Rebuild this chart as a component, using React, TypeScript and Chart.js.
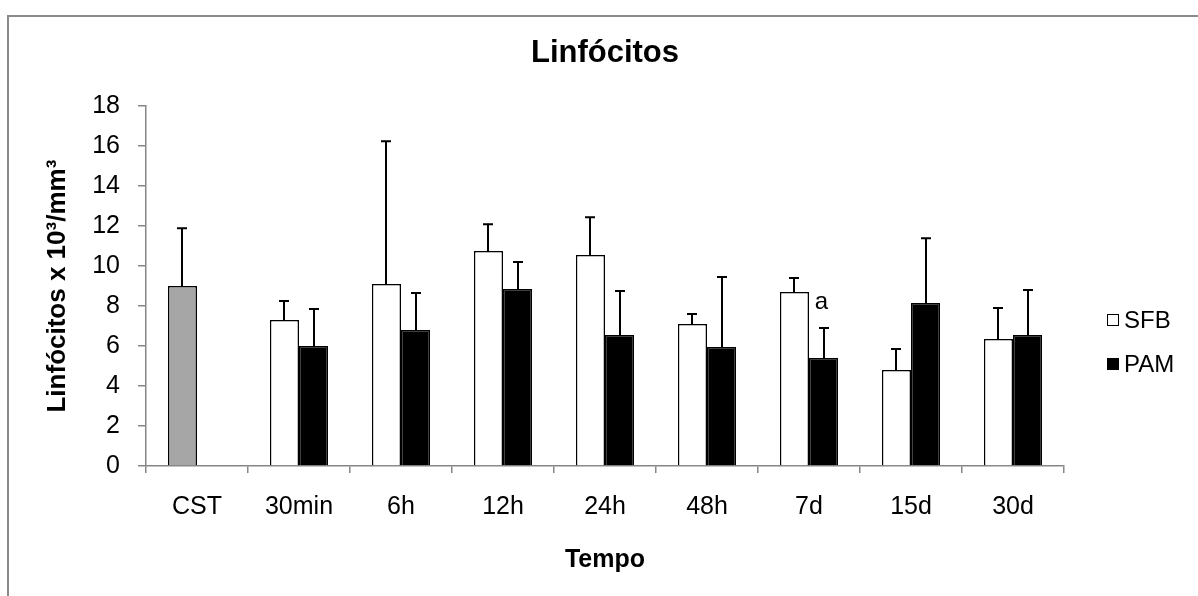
import React, { useEffect, useRef } from 'react';
import { Chart, registerables } from 'chart.js';

Chart.register(...registerables);

const categories = ['CST', '30min', '6h', '12h', '24h', '48h', '7d', '15d', '30d'];
const sfbMeans = [9.0, 7.3, 9.1, 10.75, 10.55, 7.1, 8.7, 4.8, 6.35];
const sfbErrors = [2.9, 0.95, 7.15, 1.35, 1.9, 0.5, 0.7, 1.05, 1.55];
const pamMeans: (number | null)[] = [null, 6.0, 6.8, 8.85, 6.55, 5.95, 5.4, 8.15, 6.55];
const pamErrors: (number | null)[] = [null, 1.85, 1.85, 1.35, 2.2, 3.5, 1.5, 3.25, 2.25];
const seriesNames = ['SFB', 'PAM'];
const annotations = [{ category: '7d', series: 1, text: 'a', value: 8.2 }];

const FONT = "'Liberation Sans', Arial, Helvetica, sans-serif";

export default function App() {
  const ref = useRef<HTMLCanvasElement>(null);

  useEffect(() => {
    const canvas = ref.current;
    if (!canvas) return;

    const errorsBySeries = [sfbErrors, pamErrors];
    const meansBySeries = [sfbMeans, pamMeans];

    const framePlugin = {
      id: 'frame',
      beforeDraw(chart: any) {
        const ctx = chart.ctx;
        ctx.save();
        ctx.strokeStyle = '#8a8a8a';
        ctx.lineWidth = 2;
        ctx.beginPath();
        ctx.moveTo(8, chart.height + 2);
        ctx.lineTo(8, 16);
        ctx.lineTo(chart.width + 2, 16);
        ctx.stroke();
        ctx.restore();
      },
    };

    const errorBarPlugin = {
      id: 'errorBars',
      afterDatasetsDraw(chart: any) {
        const ctx = chart.ctx;
        const y = chart.scales.y;
        ctx.save();
        ctx.strokeStyle = '#000';
        ctx.lineWidth = 2;
        chart.data.datasets.forEach((_ds: any, di: number) => {
          const meta = chart.getDatasetMeta(di);
          meta.data.forEach((bar: any, i: number) => {
            const m = meansBySeries[di][i];
            const e = errorsBySeries[di][i];
            if (m == null || e == null) return;
            const top = y.getPixelForValue(m + e);
            const x = Math.round(bar.x);
            ctx.beginPath();
            ctx.moveTo(x, bar.y);
            ctx.lineTo(x, top);
            ctx.moveTo(x - 5, top);
            ctx.lineTo(x + 5, top);
            ctx.stroke();
          });
        });
        ctx.restore();
      },
    };

    const annotationPlugin = {
      id: 'annot',
      afterDatasetsDraw(chart: any) {
        const ctx = chart.ctx;
        const y = chart.scales.y;
        ctx.save();
        ctx.fillStyle = '#000';
        ctx.font = `24px ${FONT}`;
        ctx.textAlign = 'center';
        ctx.textBaseline = 'middle';
        annotations.forEach((a) => {
          const idx = categories.indexOf(a.category);
          const bar = chart.getDatasetMeta(a.series).data[idx];
          ctx.fillText(a.text, bar.x - 2, y.getPixelForValue(a.value));
        });
        ctx.restore();
      },
    };

    const legendPlugin = {
      id: 'customLegend',
      afterDraw(chart: any) {
        const ctx = chart.ctx;
        const area = chart.chartArea;
        const x0 = area.right + 43;
        const yStart = 320;
        const gap = 44;
        ctx.save();
        ctx.font = `24px ${FONT}`;
        ctx.textBaseline = 'middle';
        ctx.textAlign = 'left';
        seriesNames.forEach((name, i) => {
          const yy = yStart + i * gap;
          const ds = chart.data.datasets[i];
          const fill = Array.isArray(ds.backgroundColor) ? ds.backgroundColor[ds.backgroundColor.length - 1] : ds.backgroundColor;
          ctx.fillStyle = fill;
          ctx.fillRect(x0, yy - 6, 12, 12);
          ctx.strokeStyle = '#000';
          ctx.lineWidth = 1;
          ctx.strokeRect(x0 + 0.5, yy - 5.5, 11, 11);
          ctx.fillStyle = '#000';
          ctx.fillText(name, x0 + 17, yy + 1);
        });
        ctx.restore();
      },
    };

    const sfbColors = categories.map((c) => (c === 'CST' ? '#a6a6a6' : '#ffffff'));

    const chart = new Chart(canvas, {
      type: 'bar',
      data: {
        labels: categories,
        datasets: [
          {
            label: seriesNames[0],
            data: sfbMeans,
            backgroundColor: sfbColors,
            borderColor: '#000',
            borderWidth: 1.5,
            borderSkipped: 'bottom',
            categoryPercentage: 0.57,
            barPercentage: 1.0,
          },
          {
            label: seriesNames[1],
            data: pamMeans,
            backgroundColor: '#000000',
            borderColor: '#000',
            borderWidth: 1.5,
            borderSkipped: 'bottom',
            categoryPercentage: 0.57,
            barPercentage: 1.0,
          },
        ],
      },
      options: {
        responsive: false,
        animation: false,
        layout: { padding: { left: 0, right: 134, top: 0, bottom: 0 } },
        plugins: {
          legend: { display: false },
          tooltip: { enabled: false },
          title: {
            display: true,
            text: 'Linfócitos',
            color: '#000',
            fullSize: false,
            font: { family: FONT, size: 31, weight: 'bold', lineHeight: 1.2 },
            padding: { top: 35, bottom: 34 },
          },
        },
        scales: {
          x: {
            afterFit(scale: any) {
              scale.height = 130;
            },
            grid: {
              drawOnChartArea: false,
              drawTicks: true,
              tickLength: 7,
              color: '#868686',
              lineWidth: 1.5,
              offset: true,
            },
            border: { color: '#868686', width: 1.5 },
            ticks: {
              color: '#000',
              padding: 19,
              font: { family: FONT, size: 25 },
              maxRotation: 0,
              autoSkip: false,
            },
            title: {
              display: true,
              text: 'Tempo',
              color: '#000',
              font: { family: FONT, size: 25, weight: 'bold', lineHeight: 1.2 },
              padding: { top: 0, bottom: 21 },
            },
          },
          y: {
            min: 0,
            max: 18,
            afterFit(scale: any) {
              scale.width = 146;
            },
            grid: {
              drawOnChartArea: false,
              drawTicks: true,
              tickLength: 8,
              color: '#868686',
              lineWidth: 1.5,
            },
            border: { color: '#868686', width: 1.5 },
            ticks: {
              stepSize: 2,
              color: '#000',
              padding: 18,
              font: { family: FONT, size: 25 },
            },
            title: {
              display: true,
              text: 'Linfócitos x 10³/mm³',
              color: '#000',
              font: { family: FONT, size: 26, weight: 'bold', lineHeight: 1.2 },
              padding: { top: 42, bottom: 0 },
            },
          },
        },
      },
      plugins: [framePlugin, errorBarPlugin, annotationPlugin, legendPlugin],
    } as any);

    return () => chart.destroy();
  }, []);

  return (
    <div style={{ position: 'fixed', left: 0, top: 0, width: 1198, height: 596, background: '#fff' }}>
      <canvas ref={ref} width={1198} height={596} style={{ display: 'block' }} />
    </div>
  );
}
